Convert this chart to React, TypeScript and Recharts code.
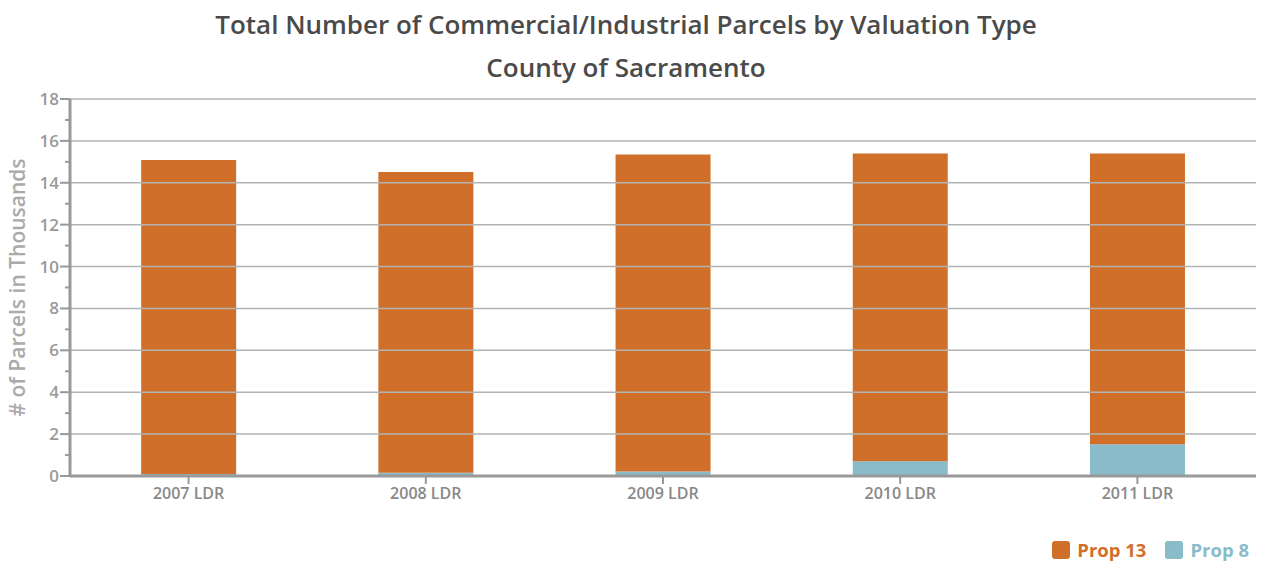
import React from 'react';
import {
  BarChart,
  Bar,
  XAxis,
  YAxis,
  ReferenceLine,
  Label,
} from 'recharts';

const categorias = ['2007 LDR', '2008 LDR', '2009 LDR', '2010 LDR', '2011 LDR'];
const prop13 = [14.99, 14.36, 15.13, 14.7, 13.88];
const prop8 = [0.1, 0.15, 0.22, 0.7, 1.52];
const yTicks = [0, 1, 2, 3, 4, 5, 6, 7, 8, 9, 10, 11, 12, 13, 14, 15, 16, 17, 18];
const gridValues = [2, 4, 6, 8, 10, 12, 14, 16, 18];

const COR_P13 = '#D06F2A';
const COR_P8 = '#89BBC8';
const FONTE = '"Open Sans", Lato, sans-serif';

const dados = categorias.map((ano, i) => ({
  ano,
  prop13: prop13[i],
  prop8: prop8[i],
}));

const legendaItens = [
  { nome: 'Prop 13', cor: COR_P13 },
  { nome: 'Prop 8', cor: COR_P8 },
];

const YTick = ({ x, y, payload }: any) => {
  const major = payload.value % 2 === 0;
  return (
    <g>
      <line x1={x - (major ? 10 : 5)} x2={x} y1={y} y2={y} stroke="#999" strokeWidth={2} />
      {major && (
        <text
          x={x - 11}
          y={y}
          dy={6}
          textAnchor="end"
          fill="#999"
          fontSize={17}
          fontWeight={600}
          fontFamily={FONTE}
        >
          {payload.value}
        </text>
      )}
    </g>
  );
};

export default function App() {
  return (
    <div
      style={{
        position: 'absolute',
        left: 0,
        top: 0,
        width: 1261,
        height: 563,
        background: '#fff',
        fontFamily: FONTE,
      }}
    >
      <div
        style={{
          position: 'absolute',
          left: 0,
          width: 1252,
          top: 3,
          textAlign: 'center',
          color: '#4a4a4a',
          fontSize: 26,
          fontWeight: 600,
          lineHeight: '43px',
        }}
      >
        <div>Total Number of Commercial/Industrial Parcels by Valuation Type</div>
        <div>County of Sacramento</div>
      </div>
      <BarChart
        width={1261}
        height={563}
        data={dados}
        margin={{ top: 99, right: 5, bottom: 57, left: 0 }}
        barCategoryGap="30%"
        style={{ position: 'absolute', left: 0, top: 0 }}
      >
        {gridValues.map((v) => (
          <ReferenceLine key={v} y={v} stroke="#b3b3b3" strokeWidth={1.5} />
        ))}
        <XAxis
          dataKey="ano"
          height={30}
          tickSize={8}
          tickLine={{ stroke: '#999', strokeWidth: 2 }}
          axisLine={{ stroke: '#999', strokeWidth: 3 }}
          tick={{ fill: '#888', fontSize: 16, fontWeight: 600, fontFamily: FONTE }}
          tickMargin={4}
        />
        <YAxis
          width={70}
          domain={[0, 18]}
          ticks={yTicks}
          interval={0}
          tickSize={0}
          tickMargin={0}
          tickLine={false}
          axisLine={{ stroke: '#999', strokeWidth: 3 }}
          tick={<YTick />}
        >
          <Label
            content={({ viewBox }: any) => {
              const cx = 25;
              const cy = viewBox.y + viewBox.height / 2;
              return (
                <text
                  x={cx}
                  y={cy}
                  transform={`rotate(-90 ${cx} ${cy})`}
                  textAnchor="middle"
                  fill="#aaa"
                  fontSize={21}
                  fontWeight={600}
                  fontFamily={FONTE}
                >
                  # of Parcels in Thousands
                </text>
              );
            }}
          />
        </YAxis>
        <Bar dataKey="prop8" name="Prop 8" stackId="a" fill={COR_P8} isAnimationActive={false} />
        <Bar dataKey="prop13" name="Prop 13" stackId="a" fill={COR_P13} isAnimationActive={false} />
      </BarChart>
      <div
        style={{
          position: 'absolute',
          right: 12,
          top: 539,
          display: 'flex',
          gap: 19,
        }}
      >
        {legendaItens.map((item) => (
          <div key={item.nome} style={{ display: 'flex', alignItems: 'center', gap: 7 }}>
            <div style={{ width: 18, height: 18, borderRadius: 3, backgroundColor: item.cor }} />
            <span style={{ color: item.cor, fontSize: 18.5, fontWeight: 700, lineHeight: '22px' }}>
              {item.nome}
            </span>
          </div>
        ))}
      </div>
    </div>
  );
}
